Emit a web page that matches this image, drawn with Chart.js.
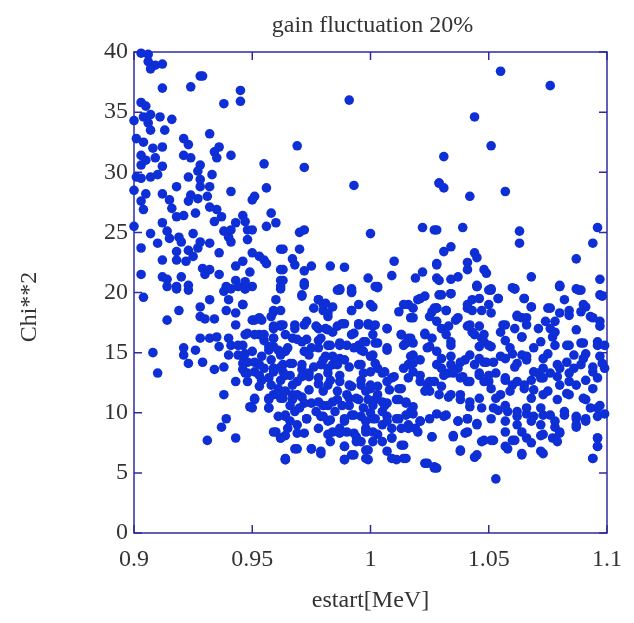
<!DOCTYPE html>
<html>
<head>
<meta charset="utf-8">
<script src="https://cdn.jsdelivr.net/npm/chart.js@4.4.0/dist/chart.umd.min.js"></script>
<style>
  body { margin: 0; background: #fff; }
  canvas { display: block; }
</style>
</head>
<body>
<canvas id="chi-chart" width="634" height="623"></canvas>
<script>
const chartTitle = 'gain fluctuation 20%';
const xLabel = 'estart[MeV]';
const yLabel = 'Chi**2';

// [estart, chi**2], grouped by region
const upperLeft = [
  [0.903,39.9],[0.906,39.8],[0.906,39.2],[0.909,38.9],[0.912,39.0],[0.907,38.6],[0.928,38.0],[0.929,38.0],
  [0.912,37.0],[0.924,37.1],[0.945,36.8],[0.938,35.7],[0.945,35.9],[0.903,35.8],[0.905,35.5],[0.900,34.3],
  [0.904,34.6],[0.907,34.8],[0.911,34.6],[0.916,34.4],[0.906,34.1],[0.907,33.5],[0.913,33.5],[0.901,32.8],
  [0.904,32.5],[0.908,32.0],[0.912,32.1],[0.932,33.2],[0.921,32.8],[0.923,32.3],[0.936,32.1],[0.934,31.7],
  [0.921,31.4],[0.924,31.2],[0.941,31.4],[0.935,31.2],[0.903,31.4],[0.905,31.0],[0.909,31.2],[0.903,30.6],
  [0.912,30.5],[0.955,30.7],[0.928,30.6],[0.927,30.1],[0.933,29.8],[0.901,29.6],[0.903,29.5],[0.907,29.6],
  [0.910,29.8],[0.923,29.6],[0.928,29.4],[0.900,28.5],[0.918,28.8],[0.928,28.8],[0.932,28.8],[0.956,28.7],
  [0.905,28.2],[0.912,28.2],[0.924,28.1],[0.931,28.0],[0.941,28.4],[0.951,28.0],[0.950,27.7],[0.903,27.6],
  [0.915,27.7],[0.923,27.6],[0.927,27.8],[0.904,26.9],[0.916,27.0],[0.932,27.1],[0.935,26.9],[0.958,26.6],
  [0.918,26.3],[0.921,26.4],[0.926,26.6],[0.937,26.3],[0.946,26.4],[0.934,25.9],[0.956,25.5],[0.960,25.8],
  [0.900,25.5],[0.912,25.8],[0.943,25.8],[0.947,25.9],[0.914,25.1],[0.938,25.1],[0.941,25.2],[0.948,25.2],
  [0.950,25.2],[0.907,24.9],[0.919,24.6],[0.925,24.9],[0.940,24.6],[0.910,24.1],[0.915,24.5],[0.920,24.2],
  [0.928,24.2],[0.932,24.1],[0.941,24.2],[0.948,24.4],[0.903,23.7],[0.918,23.4],[0.923,23.5],[0.927,23.7],
  [0.936,23.3],[0.950,23.3],[0.962,23.6],[0.912,22.7],[0.918,22.7],[0.922,22.6],[0.925,23.0],[0.946,22.6],
  [0.953,23.0],[0.955,22.7],[0.956,22.4],[0.929,22.0],[0.932,21.9],[0.943,22.2],[0.903,21.5],[0.912,21.3],
  [0.914,21.1],[0.920,21.3],[0.930,21.5],[0.936,21.5],[0.949,21.7],[0.962,21.9],[0.943,21.0],[0.947,20.9],
  [0.962,21.0],[0.918,20.5],[0.923,20.6],[0.939,20.5],[0.944,20.5]
];

const lowerLeft = [
  [0.904,19.6],[0.914,20.5],[0.918,20.3],[0.923,20.2],[0.932,19.4],[0.919,18.5],[0.914,17.7],[0.928,18.8],
  [0.928,18.0],[0.930,17.8],[0.934,17.8],[0.939,18.5],[0.943,18.3],[0.946,19.0],[0.938,20.1],[0.941,20.3],
  [0.947,20.3],[0.950,20.5],[0.940,19.4],[0.943,17.3],[0.951,17.7],[0.954,17.7],[0.959,18.4],[0.962,18.5],
  [0.960,19.4],[0.962,20.3],[0.928,16.2],[0.932,16.2],[0.935,16.3],[0.940,16.2],[0.936,15.5],[0.941,15.6],
  [0.948,16.6],[0.953,16.5],[0.955,16.0],[0.959,17.0],[0.962,17.2],[0.959,16.2],[0.926,15.2],[0.921,15.4],
  [0.921,14.8],[0.908,15.0],[0.940,14.8],[0.944,14.8],[0.946,15.6],[0.946,14.7],[0.923,14.1],[0.929,14.2],
  [0.910,13.3],[0.934,13.6],[0.938,13.8],[0.946,14.1],[0.951,14.2],[0.954,14.7],[0.957,15.2],[0.959,15.5],
  [0.962,14.8],[0.947,13.3],[0.951,13.4],[0.955,13.7],[0.959,13.7],[0.963,13.4],[0.943,12.6],[0.948,12.6],
  [0.954,12.7],[0.958,12.3],[0.962,12.7],[0.953,12.2],[0.938,11.5],[0.951,11.2],[0.957,11.1],[0.959,11.5],
  [0.963,11.2],[0.949,10.5],[0.957,10.4],[0.961,9.7],[0.964,9.8],[0.939,9.5],[0.937,8.8],[0.960,8.4],
  [0.962,7.9],[0.943,7.9],[0.931,7.7],[0.964,6.1]
];

const upperMiddle = [
  [0.991,36.0],[0.969,32.2],[0.972,30.4],[0.993,28.9],[1.029,29.1],[0.970,25.0],[0.972,25.2],[1.000,24.9],
  [1.022,25.4],[1.027,25.2],[0.963,23.6],[0.970,23.6],[0.967,22.8],[0.968,22.3],[0.963,21.9],[0.972,21.8],
  [0.975,22.2],[0.983,22.2],[0.989,22.1],[1.010,22.6],[1.028,22.4],[0.972,20.8],[0.963,21.0],[0.999,21.2],
  [1.003,20.5],[1.009,21.4],[1.019,21.2],[1.022,21.7],[0.987,20.3],[0.992,20.3],[1.028,21.2]
];

const upperRight = [
  [1.055,38.4],[1.076,37.2],[1.044,34.6],[1.051,32.2],[1.031,31.3],[1.029,29.1],[1.031,28.7],[1.042,28.0],
  [1.057,28.4],[1.096,25.4],[1.028,25.2],[1.039,25.4],[1.063,25.1],[1.063,24.1],[1.094,24.1],[1.034,23.8],
  [1.031,23.4],[1.044,23.3],[1.045,22.9],[1.041,22.5],[1.087,22.8],[1.028,22.3],[1.041,21.9],[1.048,21.9],
  [1.049,21.6],[1.068,21.3],[1.097,21.1],[1.029,21.0],[1.034,21.1],[1.037,21.3],[1.045,20.6],[1.051,20.3],
  [1.060,20.4],[1.080,20.6],[1.087,20.3]
];

const lowerMiddle = [
  [0.972,20.6],[0.987,20.2],[0.992,20.0],[1.003,20.4],[0.971,19.7],[0.976,18.7],[0.978,19.4],[0.981,19.1],
  [0.984,18.8],[0.980,18.5],[0.982,18.0],[0.992,18.5],[0.995,19.0],[1.001,18.8],[0.988,17.4],[0.995,17.4],
  [0.999,17.3],[1.001,17.2],[0.963,17.3],[0.968,17.3],[0.973,17.6],[0.977,17.2],[0.981,17.0],[0.984,16.7],
  [0.993,16.6],[1.007,17.0],[1.012,18.4],[1.016,19.0],[1.020,19.4],[1.023,19.7],[1.018,17.9],[1.026,18.4],
  [1.028,18.7],[0.967,16.2],[0.971,15.9],[0.978,16.0],[0.975,15.4],[0.982,15.6],[0.987,15.8],[0.990,15.6],
  [0.995,15.6],[0.998,15.9],[1.003,15.8],[0.996,15.2],[1.001,14.8],[1.007,15.2],[1.013,16.5],[1.015,15.8],
  [1.017,16.2],[1.023,16.5],[1.026,16.2],[1.024,15.4],[0.964,15.1],[0.963,14.0],[0.967,14.1],[0.966,13.1],
  [0.971,13.6],[0.969,12.6],[0.974,13.0],[0.981,14.7],[0.979,14.0],[0.984,14.0],[0.987,14.5],[0.982,13.3],
  [0.987,13.1],[0.978,12.4],[0.982,12.3],[0.995,14.0],[0.997,13.3],[0.992,12.2],[0.996,12.3],[1.000,12.3],
  [1.003,13.7],[1.005,13.3],[1.007,12.6],[1.012,12.0],[1.010,13.0],[1.016,14.0],[1.018,13.4],[1.018,14.8],
  [1.021,14.4],[1.016,12.9],[1.021,12.6],[1.024,12.3],[1.027,12.6],[1.028,14.0],[1.025,11.8],[0.963,11.6],
  [0.967,11.5],[0.971,11.3],[0.966,10.6],[0.970,10.4],[0.975,10.8],[0.977,10.1],[0.980,10.6],[0.984,10.9],
  [0.985,10.1],[0.988,10.6],[0.991,11.2],[0.995,11.1],[0.999,11.1],[1.003,11.5],[1.005,10.9],[1.007,10.8],
  [1.011,11.1],[1.015,10.9],[1.018,10.5],[1.018,9.9],[1.015,9.8],[1.011,9.5],[1.007,9.7],[1.005,10.1],
  [1.000,10.0],[0.996,9.7],[0.992,9.8],[0.989,9.3],[0.982,9.3],[0.980,9.7],[0.973,9.5],[0.966,9.3],
  [0.969,8.3],[0.964,8.1],[0.984,8.4],[0.987,8.7],[0.993,8.3],[0.998,8.7],[1.001,8.4],[1.005,9.0],
  [1.009,8.7],[1.013,8.7],[1.016,9.0],[1.019,8.7],[1.021,9.3],[1.026,8.0],[0.996,7.6],[1.005,7.6],
  [1.009,7.9],[1.014,7.3],[0.968,7.0],[0.975,7.0],[0.979,6.6],[0.989,7.2],[0.992,6.5],[0.998,6.9],
  [0.999,6.1],[0.989,6.1],[1.007,6.8],[1.011,6.1],[1.015,6.2],[0.964,6.1],[1.024,5.8],[1.027,5.4]
];

const lowerRight = [
  [1.029,19.8],[1.034,19.9],[1.045,20.5],[1.050,20.2],[1.054,19.5],[1.061,20.3],[1.065,19.5],[1.068,18.8],
  [1.080,20.5],[1.088,20.2],[1.097,19.8],[1.028,18.7],[1.032,18.5],[1.041,18.7],[1.043,19.4],[1.047,18.5],
  [1.051,18.3],[1.062,18.1],[1.064,17.9],[1.076,18.7],[1.080,18.3],[1.084,18.5],[1.091,18.8],[1.093,18.0],
  [1.097,17.6],[1.036,17.7],[1.041,17.2],[1.056,17.3],[1.061,17.0],[1.066,17.3],[1.074,17.6],[1.076,17.0],
  [1.087,16.9],[1.030,17.0],[1.032,16.5],[1.044,16.5],[1.047,16.2],[1.050,15.6],[1.046,15.5],[1.034,15.6],
  [1.057,16.0],[1.064,16.3],[1.072,15.9],[1.077,16.3],[1.084,15.6],[1.089,15.8],[1.096,15.6],[1.028,15.1],
  [1.034,14.7],[1.040,14.4],[1.044,14.0],[1.048,14.2],[1.053,13.3],[1.055,14.7],[1.060,14.9],[1.062,14.1],
  [1.066,14.4],[1.069,13.4],[1.073,13.7],[1.075,14.9],[1.079,14.0],[1.083,14.2],[1.086,13.7],[1.090,14.5],
  [1.094,13.8],[1.098,14.1],[1.030,13.7],[1.033,13.3],[1.037,13.7],[1.038,12.9],[1.041,12.6],[1.046,13.1],
  [1.050,12.6],[1.057,12.7],[1.060,12.3],[1.065,12.3],[1.069,11.9],[1.072,12.9],[1.075,11.8],[1.080,12.3],
  [1.083,11.6],[1.087,12.3],[1.091,11.1],[1.094,12.0],[1.097,10.6],[1.029,11.5],[1.033,11.3],[1.038,11.1],
  [1.042,10.5],[1.047,10.4],[1.053,11.2],[1.054,10.2],[1.058,10.1],[1.062,9.7],[1.066,9.9],[1.069,9.7],
  [1.073,9.8],[1.078,9.3],[1.082,9.8],[1.087,9.7],[1.091,9.5],[1.096,9.7],[1.031,9.7],[1.037,9.3],
  [1.041,9.5],[1.045,9.1],[1.035,8.1],[1.040,8.3],[1.048,7.7],[1.052,7.7],[1.057,7.2],[1.060,7.7],
  [1.064,8.4],[1.068,7.5],[1.072,8.1],[1.077,7.9],[1.080,8.4],[1.087,8.8],[1.096,7.9],[1.096,7.2],
  [1.038,6.8],[1.044,6.3],[1.064,6.5],[1.073,6.6],[1.094,6.2],[1.028,5.4],[1.053,4.5]
];

// extra points from the crowded band between 5 and 21
const denseBandA = [
  [0.947,20.3],[0.962,20.5],[0.971,19.8],[0.978,19.4],[0.980,19.0],[0.986,20.2],[0.992,20.1],[1.000,19.0],
  [0.992,18.5],[0.982,18.3],[0.959,18.5],[0.958,18.0],[0.953,17.9],[0.950,17.7],[0.946,19.0],[0.959,17.2],
  [0.962,17.3],[0.968,17.0],[0.972,17.3],[0.978,17.0],[0.982,16.9],[0.986,17.2],[0.989,17.4],[0.995,17.3],
  [0.999,17.4],[0.955,16.5],[0.951,16.5],[0.947,16.5],[0.959,16.2],[0.964,16.5],[0.969,16.1],[0.973,16.1],
  [0.979,16.2],[0.983,15.6],[0.987,15.6],[0.992,16.5],[0.997,15.9],[1.001,16.5],[0.944,15.6],[0.947,14.9],
  [0.950,15.1],[0.957,15.5],[0.961,15.2],[0.965,15.4],[0.972,15.1],[0.974,14.8],[0.978,15.4],[0.980,14.4],
  [0.984,14.7],[0.989,14.4],[0.993,15.4],[0.997,15.1],[1.000,14.7],[0.948,14.2],[0.953,14.0],[0.958,14.4],
  [0.962,13.8],[0.966,14.1],[0.971,14.0],[0.976,13.8],[0.982,13.7],[0.986,14.0],[0.991,13.8],[0.996,14.0],
  [1.000,13.4],[0.946,13.6],[0.948,13.3],[0.953,13.1],[0.957,12.9],[0.959,13.4],[0.964,13.1],[0.967,12.3],
  [0.971,13.0],[0.974,13.3],[0.978,12.9],[0.983,12.7],[0.987,12.6],[0.991,12.3],[0.996,12.7],[1.000,12.0],
  [0.961,12.0],[0.964,11.8],[0.969,11.5],[0.974,11.9],[0.980,11.8],[0.986,11.8],[0.990,11.5],[0.994,11.2],
  [0.998,11.8],[0.951,11.1],[0.957,11.2],[0.962,11.2],[0.967,11.1],[0.972,10.8],[0.978,10.9],[0.982,10.6],
  [0.986,11.1],[0.991,10.6],[0.997,10.4],[1.001,10.6],[0.950,10.4],[0.957,10.4],[0.964,9.7],[0.968,10.1],
  [0.973,9.5],[0.979,9.7],[0.983,9.4],[0.989,9.5],[0.993,9.8],[0.998,9.3],[1.001,9.5],[0.959,8.4],
  [0.962,7.9],[0.965,8.7],[0.969,9.0],[0.972,8.3],[0.978,8.7],[0.982,8.2],[0.987,8.3],[0.990,8.4],
  [0.994,8.0],[0.998,8.4],[1.001,7.6],[0.969,7.0],[0.975,7.0],[0.979,6.8],[0.983,7.6],[0.989,7.2],
  [0.994,7.6],[0.999,6.9],[0.964,6.2],[0.989,6.1],[0.993,6.5],[0.998,6.2]
];

const denseBandB = [
  [1.002,20.5],[1.021,19.5],[1.030,19.8],[1.034,19.9],[1.045,20.5],[1.046,19.5],[1.014,19.0],[1.018,18.7],
  [1.027,18.7],[1.032,18.5],[1.041,19.0],[1.043,18.5],[1.017,17.9],[1.025,18.0],[1.028,17.6],[1.033,17.2],
  [1.037,17.9],[1.042,17.3],[1.046,17.2],[1.002,17.3],[1.007,17.0],[1.013,16.5],[1.016,16.2],[1.018,15.8],
  [1.023,16.6],[1.025,15.5],[1.034,15.9],[1.043,16.7],[1.048,16.5],[1.002,15.8],[1.007,15.4],[1.014,15.6],
  [1.017,14.7],[1.018,14.1],[1.030,14.5],[1.034,14.0],[1.038,14.2],[1.042,14.8],[1.046,14.5],[1.049,14.2],
  [1.002,14.1],[1.006,13.4],[1.009,12.9],[1.014,13.7],[1.021,13.1],[1.025,12.6],[1.031,13.1],[1.035,13.3],
  [1.039,13.0],[1.042,12.6],[1.046,13.3],[1.048,12.6],[1.003,12.2],[1.008,11.9],[1.013,12.0],[1.023,11.8],
  [1.030,12.2],[1.034,11.5],[1.038,11.5],[1.042,10.9],[1.046,11.2],[1.002,11.1],[1.006,10.6],[1.012,11.1],
  [1.015,10.8],[1.017,10.1],[1.021,9.3],[1.025,9.5],[1.028,9.9],[1.032,9.8],[1.037,9.3],[1.041,9.5],
  [1.045,9.0],[1.002,9.5],[1.007,9.3],[1.012,9.5],[1.016,8.7],[1.020,8.4],[1.026,8.0],[1.035,8.0],
  [1.041,8.4],[1.047,7.6],[1.003,8.2],[1.009,7.9],[1.013,7.3],[1.038,6.9],[1.045,6.5],[1.014,6.2],
  [1.009,6.2],[1.023,5.8],[1.027,5.5]
];

const denseBandC = [
  [1.051,20.2],[1.054,19.5],[1.061,20.3],[1.065,19.5],[1.068,18.8],[1.080,20.5],[1.089,20.2],[1.082,19.4],
  [1.090,19.0],[1.098,19.7],[1.050,19.0],[1.057,17.3],[1.062,18.0],[1.066,17.9],[1.075,18.7],[1.078,17.6],
  [1.084,18.1],[1.089,18.4],[1.094,17.9],[1.097,17.2],[1.055,16.7],[1.064,16.3],[1.071,17.0],[1.078,16.7],
  [1.083,15.6],[1.090,15.8],[1.096,15.9],[1.099,15.6],[1.048,15.9],[1.051,15.5],[1.059,15.4],[1.064,14.8],
  [1.069,15.4],[1.073,14.5],[1.078,15.6],[1.086,14.8],[1.091,14.9],[1.097,14.7],[1.052,14.2],[1.057,14.5],
  [1.061,13.8],[1.066,14.7],[1.071,13.3],[1.076,13.3],[1.080,13.7],[1.084,13.3],[1.089,14.0],[1.094,13.4],
  [1.099,13.7],[1.050,13.1],[1.057,12.9],[1.062,12.6],[1.068,12.7],[1.073,12.9],[1.079,13.0],[1.084,12.6],
  [1.091,12.7],[1.096,12.9],[1.051,12.0],[1.055,11.5],[1.059,11.8],[1.065,12.0],[1.068,11.2],[1.073,11.5],
  [1.079,11.1],[1.084,11.5],[1.090,11.2],[1.096,10.4],[1.099,9.9],[1.052,10.4],[1.057,10.6],[1.062,10.1],
  [1.066,10.4],[1.072,10.4],[1.076,9.8],[1.082,10.1],[1.087,9.5],[1.093,10.4],[1.051,9.5],[1.057,9.3],
  [1.062,9.0],[1.068,9.3],[1.072,9.0],[1.078,8.8],[1.080,8.3],[1.087,9.0],[1.091,9.3],[1.051,7.7],
  [1.057,8.4],[1.061,7.7],[1.066,7.9],[1.073,8.2],[1.079,7.6],[1.058,7.0],[1.064,6.6],[1.072,6.8],
  [1.096,7.9],[1.096,7.2],[1.094,6.2]
];

const xRange = [0.9, 1.1];
const yRange = [0, 40];

const dotColor = '#0e2ed6';
const frameColor = '#2c2ca0';
const textColor = '#333333';
const serif = '"Liberation Serif", "DejaVu Serif", serif';

const allPoints = [].concat(upperLeft, lowerLeft, upperMiddle, upperRight, lowerMiddle, lowerRight,
    denseBandA, denseBandB, denseBandC).map(p => ({ x: p[0], y: p[1] }));

// gnuplot-like frame with inward ticks on all four sides, plus title and y label
const framePlugin = {
    id: 'frame',
    beforeDatasetsDraw(chart) {
        const { ctx, chartArea: a, scales } = chart;
        ctx.save();
        ctx.strokeStyle = frameColor;
        ctx.lineWidth = 1.5;
        ctx.strokeRect(a.left, a.top, a.right - a.left, a.bottom - a.top);
        ctx.beginPath();
        scales.x.ticks.forEach(t => {
            const px = scales.x.getPixelForValue(t.value);
            ctx.moveTo(px, a.bottom); ctx.lineTo(px, a.bottom - 8);
            ctx.moveTo(px, a.top); ctx.lineTo(px, a.top + 8);
        });
        scales.y.ticks.forEach(t => {
            const py = scales.y.getPixelForValue(t.value);
            ctx.moveTo(a.left, py); ctx.lineTo(a.left + 8, py);
            ctx.moveTo(a.right, py); ctx.lineTo(a.right - 8, py);
        });
        ctx.stroke();

        ctx.fillStyle = textColor;
        ctx.font = '24px ' + serif;
        ctx.textAlign = 'center';
        ctx.textBaseline = 'middle';
        ctx.fillText(chartTitle, (a.left + a.right) / 2 + 2, 26);

        ctx.translate(30, 307);
        ctx.rotate(-Math.PI / 2);
        ctx.fillText(yLabel, 0, 0);
        ctx.restore();
    }
};

const ctx = document.getElementById('chi-chart');
new Chart(ctx, {
    type: 'scatter',
    data: {
        datasets: [{
            label: yLabel,
            data: allPoints,
            backgroundColor: dotColor,
            borderWidth: 0,
            pointRadius: 4.8,
            pointHoverRadius: 4.8,
            clip: false
        }]
    },
    options: {
        responsive: false,
        animation: false,
        layout: { padding: { top: 52, right: 20, left: 0, bottom: 0 } },
        plugins: {
            legend: { display: false },
            tooltip: { enabled: false }
        },
        scales: {
            x: {
                min: xRange[0],
                max: xRange[1],
                grid: { display: false, drawTicks: false },
                border: { display: false },
                ticks: {
                    stepSize: 0.05,
                    padding: 12,
                    color: textColor,
                    font: { family: serif, size: 24 },
                    callback: v => String(Number(v.toFixed(2)))
                },
                title: {
                    display: true,
                    text: xLabel,
                    color: textColor,
                    font: { family: serif, size: 24 },
                    padding: { top: 0, bottom: 8 }
                },
                afterFit(scale) { scale.height = 90; }
            },
            y: {
                min: yRange[0],
                max: yRange[1],
                grid: { display: false, drawTicks: false },
                border: { display: false },
                ticks: {
                    stepSize: 5,
                    padding: 6,
                    color: textColor,
                    font: { family: serif, size: 24 }
                },
                afterFit(scale) { scale.width = 134; }
            }
        }
    },
    plugins: [framePlugin]
});
</script>
</body>
</html>
